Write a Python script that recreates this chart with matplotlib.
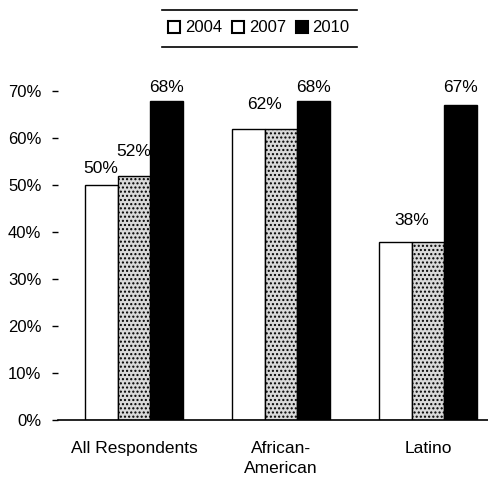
import matplotlib
matplotlib.use("Agg")
import matplotlib.pyplot as plt
from matplotlib.patches import Patch
from matplotlib.lines import Line2D
import numpy as np

plt.rcParams['font.family'] = ['Liberation Sans', 'DejaVu Sans']

categories = ["All Respondents", "African-\nAmerican", "Latino"]
years = ["2004", "2007", "2010"]
v2004 = [50, 62, 38]
v2007 = [52, 62, 38]
v2010 = [68, 68, 67]
labels2004 = ["50%", "62%", "38%"]
labels2007 = ["52%", "", ""]
labels2010 = ["68%", "68%", "67%"]
yticks = [0, 10, 20, 30, 40, 50, 60, 70]

W, H = 489, 478
fig = plt.figure(figsize=(W / 100, H / 100), dpi=100)
ax = fig.add_axes([58 / W, 1 - 420 / H, (489 - 58) / W, (420 - 89) / H])

x = np.arange(len(categories))
bw = 0.224
ax.bar(x - bw, v2004, bw, color='white', edgecolor='black', linewidth=1.0, align='center')
ax.bar(x, v2007, bw, color='#d9d9d9', edgecolor='black', linewidth=1.0, hatch='....')
ax.bar(x + bw, v2010, bw, color='black', edgecolor='black', linewidth=1.0)

fs = 12.5
off2004 = [2.0, 3.5, 3.0]
for i in range(len(categories)):
    if i == 0:
        ax.text(x[i] - bw, v2004[i] + off2004[i], labels2004[i], ha='center', va='bottom', fontsize=fs)
        ax.text(x[i], v2007[i] + 3.5, labels2007[i], ha='center', va='bottom', fontsize=fs)
    else:
        ax.text(x[i] - bw / 2, v2004[i] + off2004[i], labels2004[i], ha='center', va='bottom', fontsize=fs)
    ax.text(x[i] + bw, 69.2, labels2010[i], ha='center', va='bottom', fontsize=fs)

ax.set_xlim(-0.517, 2.415)
ax.set_ylim(0, 70.5)
ax.set_yticks(yticks)
ax.set_yticklabels([f"{t}%" for t in yticks], fontsize=12)
ax.tick_params(axis='y', length=4, width=1, direction='out', pad=8)
ax.set_xticks(x)
ax.set_xticklabels(categories, fontsize=fs, linespacing=1.45)
ax.tick_params(axis='x', length=0, pad=15)
for s in ['top', 'right', 'left']:
    ax.spines[s].set_visible(False)
ax.spines['bottom'].set_linewidth(1.2)

handles = [Patch(facecolor='white', edgecolor='black', linewidth=1.5),
           Patch(facecolor='white', edgecolor='black', linewidth=1.5),
           Patch(facecolor='black', edgecolor='black', linewidth=1.5)]
fig.legend(handles, years, loc='center', bbox_to_anchor=(259 / W, 1 - 28 / H),
           ncol=3, frameon=False, fontsize=12, handlelength=0.7, handleheight=0.7,
           handletextpad=0.3, columnspacing=0.6, borderpad=0.2)
fig.add_artist(Line2D([162 / W, 357 / W], [1 - 10 / H, 1 - 10 / H], color='black', linewidth=1.2))
fig.add_artist(Line2D([162 / W, 357 / W], [1 - 47 / H, 1 - 47 / H], color='black', linewidth=1.2))

fig.savefig("out.png", dpi=100)
